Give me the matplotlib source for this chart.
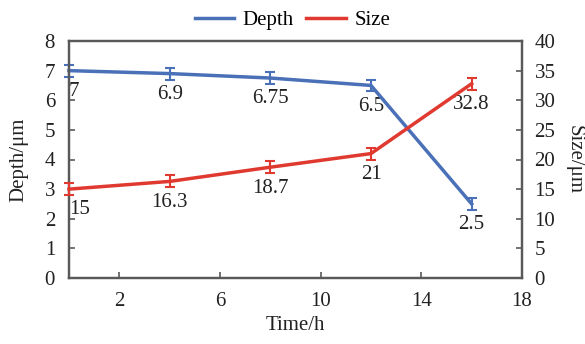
import matplotlib
matplotlib.use("Agg")
import matplotlib.pyplot as plt

time_h = [0, 4, 8, 12, 16]
depth = [7, 6.9, 6.75, 6.5, 2.5]
depth_err = [0.2, 0.2, 0.2, 0.2, 0.2]
size = [15, 16.3, 18.7, 21, 32.8]
size_err = [1.0, 1.0, 1.0, 1.0, 1.0]
depth_labels = ["7", "6.9", "6.75", "6.5", "2.5"]
size_labels = ["15", "16.3", "18.7", "21", "32.8"]
x_ticks = [2, 6, 10, 14, 18]
left_ticks = [0, 1, 2, 3, 4, 5, 6, 7, 8]
right_ticks = [0, 5, 10, 15, 20, 25, 30, 35, 40]

plt.rcParams['font.family'] = ['Liberation Serif', 'DejaVu Serif']
FS = 15

blue = '#4A70B8'
red = '#E03A30'
spine = '#595959'
txt = '#222222'

fig = plt.figure(figsize=(5.85, 3.44), dpi=100)
ax = fig.add_axes([69/585, 1-278/344, (522-69)/585, (278-41)/344])
ax2 = ax.twinx()

ax.errorbar(time_h, depth, yerr=depth_err, color=blue, lw=2.5, capsize=3.5,
            elinewidth=1.5, capthick=1.5, clip_on=False, zorder=3)
ax2.errorbar(time_h, size, yerr=size_err, color=red, lw=2.5, capsize=3.5,
             elinewidth=1.5, capthick=1.5, clip_on=False, zorder=3)

for i, (x, y, t) in enumerate(zip(time_h, depth, depth_labels)):
    ax.annotate(t, (x, y), xytext=(0, -15), textcoords='offset points',
                ha='left' if i == 0 else 'center', va='center', fontsize=FS, color=txt)
for i, (x, y, t) in enumerate(zip(time_h, size, size_labels)):
    ax2.annotate(t, (x, y), xytext=(0, -15), textcoords='offset points',
                 ha='left' if i == 0 else 'center', va='center', fontsize=FS, color=txt)

ax.set_xlim(0, 18)
ax.set_ylim(0, 8)
ax2.set_ylim(0, 40)
ax.set_xticks(x_ticks)
ax.set_yticks(left_ticks)
ax2.set_yticks(right_ticks)

for a in (ax, ax2):
    for s in a.spines.values():
        s.set_color(spine)
        s.set_linewidth(1.6)
ax.tick_params(axis='both', direction='in', length=4, width=1.2, color=spine,
               labelcolor=txt, labelsize=FS)
ax.tick_params(axis='y', pad=10)
ax.tick_params(axis='x', pad=10)
ax2.tick_params(axis='y', direction='in', length=4, width=1.2, color=spine,
                labelcolor=txt, labelsize=FS, pad=9)

ax.set_xlabel('Time/h', fontsize=FS, labelpad=4, color=txt)
ax.set_ylabel('Depth/μm', fontsize=FS, color=txt, labelpad=12)
ax2.set_ylabel('Size/μm', fontsize=FS, rotation=270, labelpad=20, color=txt)

handles = [plt.Line2D([], [], color=blue, lw=2.5), plt.Line2D([], [], color=red, lw=2.5)]
fig.legend(handles, ['Depth', 'Size'], loc='center', bbox_to_anchor=(0.5, 1-20/344),
           ncol=2, frameon=False, fontsize=FS, handlelength=1.9, columnspacing=0.6,
           handletextpad=0.4)

fig.savefig('out.png', dpi=100)
